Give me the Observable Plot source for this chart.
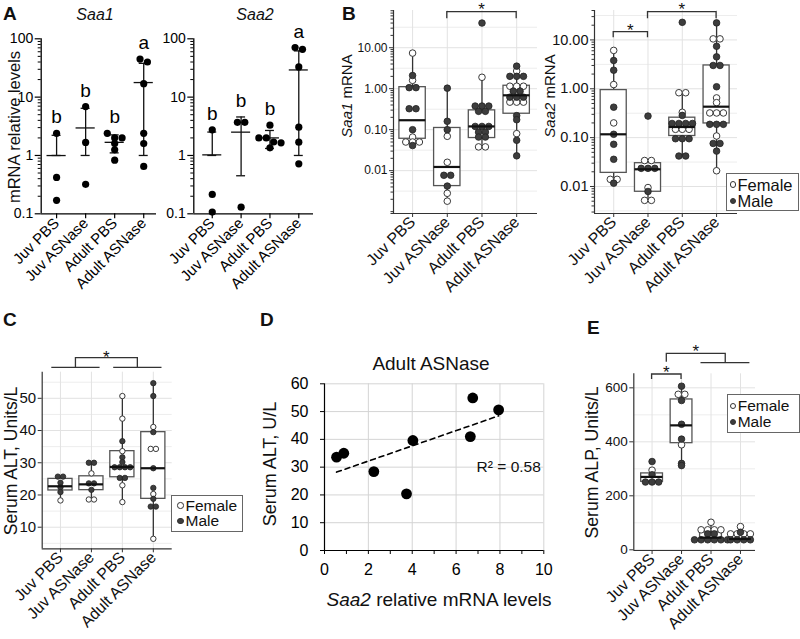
<!DOCTYPE html>
<html><head><meta charset="utf-8">
<script src="https://cdn.jsdelivr.net/npm/d3@7"></script>
<script src="https://cdn.jsdelivr.net/npm/@observablehq/plot@0.6"></script>
<style>
body{margin:0;background:#fff;}
#fig{position:relative;width:800px;height:639px;overflow:hidden;font-family:"Liberation Sans",Arial,sans-serif;background:#fff;}
.panel{position:absolute;}
.legend{position:absolute;border:1px solid #666;background:#fff;box-sizing:border-box;color:#111;}
.legend .row{display:flex;align-items:center;white-space:nowrap;}
.legend .sw{display:inline-block;width:6.5px;height:6.5px;border-radius:50%;box-sizing:border-box;border:1px solid #333;margin-right:1.5px;}
.sw.f{background:#fff}.sw.m{background:#3d3d3d}
#overlay{position:absolute;left:0;top:0;pointer-events:none;overflow:visible;}
</style></head><body><div id="fig"></div>
<script>
// ---------- DATA ----------
const groups = ["Juv PBS", "Juv ASNase", "Adult PBS", "Adult ASNase"];

// Panel A: mRNA relative levels (individual mice)
const saa1Fold = [[2.4, 0.42, 0.17], [6.9, 1.67, 0.32], [2.4, 2.0, 2.0, 1.6, 1.25, 0.83], [45, 40, 17, 2.4, 1.6, 0.65]];
const saa2Fold = [[2.75, 0.215, 0.107], [3.7, 3.7, 0.13], [3.3, 2.0, 2.0, 1.7, 1.65, 1.35], [71, 66, 33, 3.05, 1.69, 0.72]];
const saa1Letters = ["b", "b", "b", "a"];
const saa2Letters = ["b", "b", "b", "a"];

// Panel B: Saa1 / Saa2 mRNA by sex
const bSaa1Female = [[7.4, 1.6, 0.066, 0.05, 0.05, 0.05], [0.069, 0.016, 0.0028, 0.0018], [1.9, 0.038, 0.038], [2.7, 1.15, 1.15, 1.15, 0.47, 0.47, 0.47, 0.08]];
const bSaa1Male = [[2.1, 1.06, 1.06, 0.325, 0.325, 0.1, 0.041], [1.03, 0.16, 0.1, 0.0077, 0.0077, 0.0042], [40, 0.377, 0.377, 0.377, 0.28, 0.28, 0.12, 0.12, 0.12, 0.087, 0.087, 0.066, 0.066], [3.55, 2.0, 2.0, 2.0, 0.87, 0.87, 0.62, 0.62, 0.62, 0.22, 0.175, 0.055, 0.023]];
// box stats: [lower whisker, Q1, median, Q3, upper whisker]
const bSaa1Box = [[0.041, 0.06, 0.17, 1.09, 7.4], [0.0018, 0.0042, 0.0123, 0.11, 1.03], [0.038, 0.0625, 0.12, 0.296, 1.9], [0.023, 0.245, 0.69, 1.18, 3.55]];
const bSaa1Sig = [[1, 3]];

const bSaa2Female = [[6.1, 1.22, 0.2, 0.014, 0.014], [0.034, 0.034, 0.0095, 0.0052, 0.0052], [0.83, 0.83, 0.33, 0.148, 0.148, 0.148], [10.5, 10.5, 0.65, 0.52, 0.32, 0.32, 0.32, 0.108, 0.021]];
const bSaa2Male = [[3.8, 2.4, 0.42, 0.117, 0.073, 0.036, 0.0117], [0.276, 0.0235, 0.0235, 0.0235, 0.0079], [22.9, 0.285, 0.195, 0.195, 0.195, 0.195, 0.095, 0.095, 0.095, 0.042, 0.042], [22.3, 7.4, 4.5, 3.0, 3.0, 1.1, 0.187, 0.187, 0.187, 0.076, 0.076, 0.053]];
const bSaa2Box = [[0.0117, 0.019, 0.117, 0.94, 6.1], [0.0052, 0.0078, 0.0225, 0.03, 0.035], [0.042, 0.108, 0.165, 0.256, 0.83], [0.021, 0.195, 0.43, 3.0, 22.3]];
const bSaa2Sig = [[0, 1], [1, 3]];

// Panel C: serum ALT
const altFemale = [[18.3], [26.7, 18.6, 18.6], [50.7, 43.7, 33.6, 23.0, 17.8], [41.1, 34.3, 34.3, 20.3, 6.4]];
const altMale = [[25.7, 25.7, 23.8, 22.4, 20.9], [30, 30, 23.6, 23.6, 21.6], [36.7, 31.7, 30.2, 28.6, 28.6, 28.6, 28.6, 25.3, 25.3], [54.7, 50.7, 39.5, 28.3, 22.2, 18.8, 16.4, 16.4]];
const altBox = [[18.3, 21.4, 22.7, 25.0, 25.7], [18.6, 21.5, 23.3, 25.8, 30], [17.8, 25.5, 28.7, 33.6, 50.7], [6.4, 18.8, 28.3, 39.5, 54.7]];

// Panel D: Adult ASNase, Saa2 vs ALT
const saa2Rel = [0.55, 0.88, 2.25, 3.74, 4.03, 6.65, 6.76, 7.94];
const altAdult = [33.6, 35.0, 28.4, 20.4, 39.6, 41.0, 54.9, 50.6];
const rSquared = 0.58;

// Panel E: serum ALP
const alpFemale = [[295], [576, 576, 389], [102, 74, 74, 74, 74], [86, 59, 59, 59, 59]];
const alpMale = [[327, 278, 251, 251, 251], [606, 553, 465, 410, 320, 312], [59, 59, 37, 37, 37, 37, 37, 37], [65, 37, 37, 37, 37]];
const alpBox = [[251, 252, 270, 283, 295], [312, 395, 461, 557, 606], [37, 37, 45, 65, 102], [37, 37, 40, 59, 86]];

const sexes = ["Female", "Male"];

// ---------- HELPERS ----------
const FONT = '"Liberation Sans", Arial, sans-serif';
const fig = document.getElementById("fig");
const baseStyle = {fontFamily: FONT, background: "none", overflow: "visible", color: "#111"};
const cats = [0, 1, 2, 3];

function place(svg, left, top) {
  const d = document.createElement("div");
  d.className = "panel";
  d.style.left = left + "px"; d.style.top = top + "px";
  d.appendChild(svg); fig.appendChild(d);
}
function logMinor(lo, hi) {
  const out = [];
  for (let e = Math.floor(Math.log10(lo)) - 1; e <= Math.ceil(Math.log10(hi)); e++)
    for (let m = 1; m <= 9; m++) { const v = m * Math.pow(10, e); if (v >= lo && v <= hi) out.push(+v.toPrecision(6)); }
  return out;
}
function logHalf(lo, hi) {
  const out = [];
  for (let e = Math.floor(Math.log10(lo)) - 1; e <= Math.ceil(Math.log10(hi)); e++) {
    const v = Math.pow(10, e + 0.5); if (v >= lo && v <= hi) out.push(v);
  }
  return out;
}
// dot-plot layout: points close in y are stacked side by side, centred on the group
function arrange(perGroup, yPx, spacingPx, stepPx, thresh) {
  const out = [];
  perGroup.forEach((pts, g) => {
    const sorted = pts.map(p => ({...p, py: yPx(p.v)})).sort((a, b) => a.py - b.py);
    const clusters = [];
    for (const p of sorted) {
      const c = clusters[clusters.length - 1];
      if (c && Math.abs(p.py - c.py) <= thresh) c.items.push(p); else clusters.push({py: p.py, items: [p]});
    }
    for (const c of clusters) {
      const k = c.items.length;
      c.items.forEach((p, i) => out.push({group: g, sex: p.sex, v: p.v, x: g + (i - (k - 1) / 2) * spacingPx / stepPx}));
    }
  });
  return out;
}
// significance brackets drawn in frame-relative pixel offsets
function bracketMark(items) {
  return (index, scales, values, dims) => {
    const x = scales.x, top = dims.marginTop;
    const g = d3.create("svg:g");
    const path = pts => g.append("path").attr("d", d3.line()(pts)).attr("fill", "none").attr("stroke", "#333").attr("stroke-width", 1.3);
    const star = (cx, cy) => g.append("text").attr("x", cx).attr("y", cy + 9.8).attr("text-anchor", "middle")
      .attr("font-size", 17).attr("font-family", FONT).attr("fill", "#111").text("*");
    for (const it of items) {
      if (it.type === "pair") {
        const xa = x(it.a), xb = x(it.b), yl = top + it.y;
        path([[xa, yl + it.drop], [xa, yl], [xb, yl], [xb, yl + it.drop]]);
        star((xa + xb) / 2, top + it.star);
      } else if (it.type === "groups") {
        const [ga, gb] = it.g;
        const w = it.w;
        path([[x(ga[0] - w), top + it.gy], [x(ga[1] + w), top + it.gy]]);
        path([[x(gb[0] - w), top + it.gy], [x(gb[1] + w), top + it.gy]]);
        const ml = (x(ga[0]) + x(ga[1])) / 2, mr = (x(gb[0]) + x(gb[1])) / 2;
        path([[ml, top + it.gy], [ml, top + it.by], [mr, top + it.by], [mr, top + it.gy]]);
        star((ml + mr) / 2, top + it.star);
      } else if (it.type === "pairToGroup") {
        const ml = (x(it.a[0]) + x(it.a[1])) / 2, mr = (x(it.g[0]) + x(it.g[1])) / 2;
        path([[x(it.g[0] - it.w1), top + it.gy2], [x(it.g[1] + it.w2), top + it.gy2]]);
        path([[ml, top + it.gy1], [ml, top + it.by], [mr, top + it.by], [mr, top + it.gy2]]);
        star((ml + mr) / 2, top + it.star);
      }
    }
    return g.node();
  };
}

// ---------- PANEL A ----------
function panelA(values, letters, left, width, mL, mR, xDom) {
  const H = 300, mT = 38.3, mB = 86.7, yDom = [0.1, 100];
  const fw = width - mL - mR, fh = H - mT - mB;
  const yPx = d3.scaleLog().domain(yDom).range([fh, 0]);
  const step = fw / (xDom[1] - xDom[0]);
  const pts = arrange(values.map(vs => vs.map(v => ({v, sex: "all"}))), yPx, 7.4, step, 5);
  const stats = values.map((vs, i) => {
    const m = d3.mean(vs), s = d3.deviation(vs);
    // lower bar cannot go below zero on the log axis; drawn to 1 as in the original
    return {i, m, hi: m + s, lo: m - s > 0 ? m - s : 1, top: Math.max(d3.max(vs), m + s), letter: letters[i]};
  });
  const svg = Plot.plot({
    width, height: H, marginLeft: mL, marginRight: mR, marginTop: mT, marginBottom: mB,
    x: {domain: xDom, label: null}, y: {type: "log", domain: yDom, label: null},
    style: {...baseStyle, color: "#000"},
    marks: [
      Plot.ruleX([xDom[0]], {y1: yDom[0], y2: yDom[1], stroke: "#000", strokeWidth: 1.3}),
      Plot.ruleY([yDom[0]], {x1: xDom[0], x2: xDom[1], stroke: "#000", strokeWidth: 1.3}),
      Plot.axisY([0.1, 1, 10, 100], {tickSize: 6, tickPadding: 2, tickFormat: d3.format("~g"), fontSize: 14, strokeWidth: 1.2, label: null}),
      Plot.axisY(logMinor(0.1, 100).filter(v => ![0.1, 1, 10, 100].includes(v)), {tickSize: 3, tickFormat: () => "", label: null}),
      Plot.axisX(cats, {tickRotate: -45, tickFormat: i => groups[i], fontSize: 15, tickSize: 5, tickPadding: 2, strokeWidth: 1.2, label: null}),
      Plot.ruleX(stats, {x: "i", y1: "lo", y2: "hi", stroke: "#111", strokeWidth: 1.3}),
      Plot.ruleY(stats, {y: "m", x1: d => d.i - 0.33, x2: d => d.i + 0.33, stroke: "#111", strokeWidth: 1.3}),
      Plot.ruleY(stats, {y: "hi", x1: d => d.i - 0.155, x2: d => d.i + 0.155, stroke: "#111", strokeWidth: 1.3}),
      Plot.ruleY(stats, {y: "lo", x1: d => d.i - 0.155, x2: d => d.i + 0.155, stroke: "#111", strokeWidth: 1.3}),
      Plot.dot(pts, {x: "x", y: "v", r: 3.6, fill: "#000", stroke: "none"}),
      Plot.text(stats, {x: "i", y: "top", text: "letter", dy: -16, fontSize: 19, fill: "#000"})
    ]
  });
  place(svg, left, 0);
}
panelA(saa1Fold, saa1Letters, 0, 165, 40.7, 9, [-0.53, 3.44]);
panelA(saa2Fold, saa2Letters, 165, 155, 28.3, 7, [-0.64, 3.51]);

// ---------- BOX + DOT PANELS (B, C, E) ----------
function boxPanel(c) {
  const fw = c.width - c.mL - c.mR, fh = c.height - c.mT - c.mB;
  const yPx = (c.yType === "log" ? d3.scaleLog() : d3.scaleLinear()).domain(c.yDom).range([fh, 0]);
  const step = fw / (c.xDom[1] - c.xDom[0]);
  const per = groups.map((_, g) => [
    ...c.female[g].map(v => ({v, sex: sexes[0]})),
    ...c.male[g].map(v => ({v, sex: sexes[1]}))
  ]);
  const pts = arrange(per, yPx, c.spacing, step, c.thresh);
  const rows = c.box.map((b, i) => ({i, lo: b[0], q1: b[1], med: b[2], q3: b[3], hi: b[4]}));
  const hw = c.halfW;
  const marks = [
    Plot.gridY(c.gridMinor, {stroke: "#ededed", strokeOpacity: 1}),
    Plot.gridY(c.gridMajor, {stroke: "#e2e2e2", strokeOpacity: 1}),
    Plot.gridX(cats, {stroke: "#e2e2e2", strokeOpacity: 1}),
    Plot.ruleX([c.xDom[0]], {y1: c.yDom[0], y2: c.yDom[1], stroke: "#333", strokeWidth: 1.2}),
    Plot.ruleY([c.yDom[0]], {x1: c.xDom[0], x2: c.xDom[1], stroke: "#333", strokeWidth: 1.2}),
    Plot.axisY(c.majorTicks, {tickSize: 4, tickPadding: 2, tickFormat: c.tickFormat, fontSize: c.tickFont, stroke: "#333", label: null}),
    c.minorTicks ? Plot.axisY(c.minorTicks, {tickSize: 2.5, tickFormat: () => "", stroke: "#333", label: null}) : null,
    Plot.axisX(cats, {tickRotate: -45, tickFormat: i => groups[i], fontSize: c.xFont, tickSize: 4, tickPadding: 2, stroke: "#333", label: null}),
    Plot.ruleX(rows, {x: "i", y1: "lo", y2: "q1", stroke: "#333", strokeWidth: 1.3}),
    Plot.ruleX(rows, {x: "i", y1: "q3", y2: "hi", stroke: "#333", strokeWidth: 1.3}),
    Plot.rect(rows, {x1: d => d.i - hw, x2: d => d.i + hw, y1: "q1", y2: "q3", fill: "#fff", stroke: "#555", strokeWidth: 1.3}),
    Plot.dot(pts.filter(d => d.sex === "Female"), {x: "x", y: "v", r: c.r, fill: "#fff", stroke: "#3a3a3a", strokeWidth: 1}),
    Plot.dot(pts.filter(d => d.sex === "Male"), {x: "x", y: "v", r: c.r, fill: "#3d3d3d", stroke: "#222", strokeWidth: 0.8}),
    Plot.ruleY(rows, {y: "med", x1: d => d.i - hw, x2: d => d.i + hw, stroke: "#111", strokeWidth: 2.2}),
    c.brackets ? bracketMark(c.brackets) : null
  ].filter(Boolean);
  const svg = Plot.plot({
    width: c.width, height: c.height, marginLeft: c.mL, marginRight: c.mR, marginTop: c.mT, marginBottom: c.mB,
    x: {domain: c.xDom, label: null}, y: {type: c.yType, domain: c.yDom, label: null},
    style: baseStyle, marks
  });
  place(svg, c.left, c.top);
}

const fmt2 = d3.format(".2f");
// B: Saa1
{
  const yDom = [0.0009, 81];
  boxPanel({
    female: bSaa1Female, male: bSaa1Male, box: bSaa1Box,
    left: 320, top: 0, width: 222, height: 300, mL: 73, mR: 5, mT: 10, mB: 87,
    xDom: [-0.55, 3.6], yDom, yType: "log",
    majorTicks: [0.01, 0.1, 1, 10], minorTicks: logMinor(yDom[0], yDom[1]).filter(v => ![0.01, 0.1, 1, 10].includes(v)),
    gridMajor: [0.01, 0.1, 1, 10], gridMinor: logHalf(yDom[0], yDom[1]),
    tickFormat: fmt2, tickFont: 12, xFont: 16, r: 3.3, spacing: 6.8, thresh: 2.5, halfW: 0.38,
    brackets: bSaa1Sig.map(([a, b]) => ({type: "pair", a, b, y: 1.7, drop: 6.5, star: -4.5}))
  });
}
// B: Saa2
{
  const yDom = [0.0028, 40];
  const offs = [{y: 21.7, drop: 5.6, star: 16.5}, {y: 1.7, drop: 6.6, star: -4.5}];
  boxPanel({
    female: bSaa2Female, male: bSaa2Male, box: bSaa2Box,
    left: 545, top: 0, width: 200, height: 300, mL: 49, mR: 8, mT: 10, mB: 87,
    xDom: [-0.56, 3.61], yDom, yType: "log",
    majorTicks: [0.01, 0.1, 1, 10], minorTicks: logMinor(yDom[0], yDom[1]).filter(v => ![0.01, 0.1, 1, 10].includes(v)),
    gridMajor: [0.01, 0.1, 1, 10], gridMinor: logHalf(yDom[0], yDom[1]),
    tickFormat: fmt2, tickFont: 14.5, xFont: 16, r: 3.3, spacing: 6.8, thresh: 2.5, halfW: 0.38,
    brackets: bSaa2Sig.map(([a, b], k) => ({type: "pair", a, b, ...offs[k]}))
  });
}
// C: ALT
boxPanel({
  female: altFemale, male: altMale, box: altBox,
  left: 0, top: 330, width: 180, height: 300, mL: 41.7, mR: 8.3, mT: 41.7, mB: 81.7,
  xDom: [-0.59, 3.61], yDom: [3.3, 58.1], yType: "linear",
  majorTicks: [10, 20, 30, 40, 50], minorTicks: null,
  gridMajor: [10, 20, 30, 40, 50], gridMinor: [5, 15, 25, 35, 45, 55],
  tickFormat: d3.format("d"), tickFont: 15, xFont: 16, r: 2.7, spacing: 5.2, thresh: 2, halfW: 0.39,
  brackets: [{type: "groups", g: [[0, 1], [2, 3]], w: 0.28, gy: -4.4, by: -14, star: -18.5}]
});
// E: ALP
boxPanel({
  female: alpFemale, male: alpMale, box: alpBox,
  left: 580, top: 330, width: 180, height: 300, mL: 53.3, mR: 5, mT: 43.3, mB: 80,
  xDom: [-0.62, 3.51], yDom: [-2.6, 652], yType: "linear",
  majorTicks: [0, 200, 400, 600], minorTicks: null,
  gridMajor: [0, 200, 400, 600], gridMinor: [100, 300, 500],
  tickFormat: d3.format("d"), tickFont: 13.5, xFont: 16, r: 3.3, spacing: 6.6, thresh: 1.2, halfW: 0.37,
  brackets: [
    {type: "pair", a: 0, b: 1, y: 0.7, drop: 5, star: -5.3},
    {type: "pairToGroup", a: [0, 1], g: [2, 3], w1: 0.34, w2: 0.32, gy1: -11.6, gy2: -10.6, by: -20, star: -26.6}
  ]
});

// ---------- PANEL D ----------
{
  const pts = saa2Rel.map((x, i) => ({x, y: altAdult[i]}));
  const svg = Plot.plot({
    width: 300, height: 215, marginLeft: 64, marginRight: 16.7, marginTop: 13.3, marginBottom: 35,
    x: {domain: [0, 10], label: null}, y: {domain: [0, 60], label: null},
    style: {...baseStyle, color: "#000"},
    marks: [
      Plot.gridX([2, 4, 6, 8, 10], {stroke: "#d4d4d4", strokeOpacity: 1}),
      Plot.gridY([10, 20, 30, 40, 50, 60], {stroke: "#d4d4d4", strokeOpacity: 1}),
      Plot.ruleX([0], {stroke: "#000", strokeWidth: 1.2}),
      Plot.ruleY([0], {stroke: "#000", strokeWidth: 1.2}),
      Plot.axisX(d3.range(0, 11), {tickSize: 4, tickPadding: 9, fontSize: 16, tickFormat: d => d % 2 ? "" : String(d), label: null}),
      Plot.axisY(d3.range(0, 61, 10), {tickSize: 4, tickPadding: 12, fontSize: 16, label: null}),
      Plot.linearRegressionY(pts, {x: "x", y: "y", ci: 0, stroke: "#000", strokeWidth: 1.6, strokeDasharray: "5,4"}),
      Plot.dot(pts, {x: "x", y: "y", r: 5.4, fill: "#000"}),
      Plot.text([`R² = ${rSquared}`], {frameAnchor: "right", dx: -3, textAnchor: "end", fontSize: 15.5, fill: "#111"})
    ]
  });
  place(svg, 260, 370);
}

// ---------- LEGENDS ----------
function legend(left, top, w, h, font, lh, padT, padL) {
  const d = document.createElement("div");
  d.className = "legend";
  Object.assign(d.style, {left: left + "px", top: top + "px", width: w + "px", height: h + "px",
    fontSize: font + "px", lineHeight: lh + "px", paddingTop: padT + "px", paddingLeft: padL + "px"});
  d.innerHTML = sexes.map((s, i) => `<div class="row" style="height:${lh}px"><span class="sw ${i ? "m" : "f"}"></span>${s}</div>`).join("");
  fig.appendChild(d);
}
legend(726, 173, 73, 38, 16.5, 16.2, 2.6, 2.5);
legend(170.7, 495, 72.6, 37.3, 15.5, 15.5, 1.8, 5.8);
legend(726.7, 394, 73, 38.7, 15.5, 16, 3, 2);

// ---------- TEXT OVERLAY ----------
const texts = [
  {p: [["A", "bold"]], x: 3, y: 19.5, s: 19},
  {p: [["B", "bold"]], x: 342, y: 19.5, s: 19},
  {p: [["C", "bold"]], x: 3, y: 325.5, s: 19},
  {p: [["D", "bold"]], x: 260, y: 325.5, s: 19},
  {p: [["E", "bold"]], x: 587, y: 333.5, s: 19},
  {p: [["Saa1", "italic"]], x: 95, y: 20, s: 16, a: "middle"},
  {p: [["Saa2", "italic"]], x: 255, y: 20, s: 16, a: "middle"},
  {p: [["mRNA relative levels"]], x: 20, y: 127, s: 16.5, a: "middle", r: -90},
  {p: [["Saa1", "italic"], [" mRNA"]], x: 351.5, y: 96, s: 15, a: "middle", r: -90},
  {p: [["Saa2", "italic"], [" mRNA"]], x: 555, y: 96, s: 15, a: "middle", r: -90},
  {p: [["Serum ALT, Units/L"]], x: 16.5, y: 461, s: 17.5, a: "middle", r: -90},
  {p: [["Serum ALT, U/L"]], x: 276, y: 464, s: 18, a: "middle", r: -90},
  {p: [["Adult ASNase"]], x: 431, y: 370, s: 19, a: "middle"},
  {p: [["Saa2", "italic"], [" relative mRNA levels"]], x: 439, y: 606, s: 19, a: "middle"},
  {p: [["Serum ALP, Units/L"]], x: 598, y: 462.5, s: 17.7, a: "middle", r: -90}
];
const ov = d3.select(fig).append("svg").attr("id", "overlay").attr("width", 800).attr("height", 639);
for (const t of texts) {
  const el = ov.append("text").attr("transform", `translate(${t.x},${t.y})${t.r ? ` rotate(${t.r})` : ""}`)
    .attr("text-anchor", t.a || "start").attr("font-size", t.s).attr("font-family", FONT).attr("fill", "#111");
  for (const [str, st] of t.p) {
    const ts = el.append("tspan").text(str);
    if (st === "bold") ts.attr("font-weight", "bold");
    if (st === "italic") ts.attr("font-style", "italic");
  }
}
</script></body></html>
